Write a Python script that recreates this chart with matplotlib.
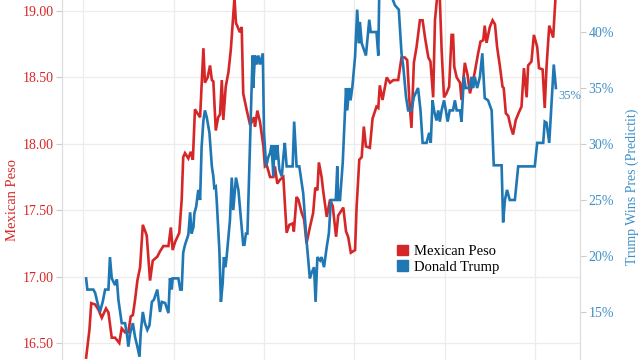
import matplotlib
matplotlib.use("Agg")
import matplotlib.pyplot as plt
from matplotlib.patches import Patch

RED = "#d62728"
BLUE = "#1f77b4"
BLUE_TXT = "#3d8fc6"

# Mexican peso (MXN per USD), day index along the x axis
peso_day = [1.0, 2.1, 2.7, 4.0, 5.1, 6.2, 7.0, 7.6, 8.4, 9.5, 10.6, 12.0, 12.8,
            13.9, 15.0, 15.8, 16.5, 17.2, 18.0, 18.9, 19.8, 21.1, 22.2, 23.1,
            24.6, 25.5, 26.6, 28.3, 29.1, 29.7, 30.5, 31.9, 32.7, 33.2, 33.8,
            34.9, 35.7, 36.4, 37.1, 37.9, 38.8, 39.9, 40.4, 41.3, 42.1, 42.7,
            43.2, 44.0, 44.8, 45.4, 46.0, 46.5, 47.3, 48.2, 49.0, 49.6, 50.2,
            50.7, 52.0, 52.6, 53.1, 54.3, 55.4, 56.7, 57.0, 57.8, 58.7, 59.8,
            60.3, 60.9, 62.0, 63.1, 63.6, 64.4, 65.3, 66.4, 67.5, 68.4, 69.5,
            69.9, 70.8, 71.4, 72.5, 73.3, 74.1, 75.2, 76.3, 77.0, 77.7, 78.2,
            79.1, 79.6, 80.8, 81.9, 82.8, 83.9, 84.6, 86.3, 87.2, 87.9, 88.8,
            90.2, 90.7, 91.6, 92.4, 93.1, 93.8, 95.1, 96.0, 97.3, 97.9, 98.4,
            99.3, 100.7, 101.8, 102.9, 104.5, 105.6, 106.7, 107.5, 108.2,
            108.9, 109.7, 110.6, 111.7, 112.6, 113.4, 114.5, 115.2, 116.1,
            116.7, 117.4, 118.3, 118.9, 119.7, 120.5, 121.4, 122.2, 122.7,
            123.1, 123.9, 125.0, 125.5, 126.6, 127.5, 128.3, 129.2, 129.9,
            131.0, 131.8, 132.7, 133.2, 133.8, 134.9, 135.8, 136.6, 137.3,
            138.2, 139.1, 139.5, 140.2, 141.0, 141.8, 142.6, 143.5, 144.6,
            145.4, 146.2, 147.1, 147.6, 148.7, 149.5, 150.6, 151.2, 152.4,
            153.1, 153.7, 154.6, 155.9, 156.8]
peso = [16.39, 16.60, 16.80, 16.79, 16.75, 16.69, 16.73, 16.76, 16.73, 16.54,
        16.54, 16.50, 16.61, 16.58, 16.58, 16.70, 16.71, 16.82, 16.97, 17.07,
        17.39, 17.31, 16.97, 17.12, 17.15, 17.19, 17.23, 17.23, 17.37, 17.20,
        17.26, 17.33, 17.58, 17.90, 17.93, 17.89, 17.94, 17.88, 18.26, 18.23,
        18.20, 18.72, 18.46, 18.50, 18.59, 18.48, 18.47, 18.10, 18.20, 18.22,
        18.48, 18.18, 18.43, 18.54, 18.71, 18.91, 19.10, 18.91, 18.84, 18.88,
        18.38, 18.25, 18.14, 18.20, 18.13, 18.25, 18.16, 17.98, 17.83, 17.84,
        17.75, 17.75, 17.83, 17.70, 17.73, 17.75, 17.33, 17.39, 17.40, 17.34,
        17.60, 17.58, 17.48, 17.43, 17.25, 17.37, 17.48, 17.67, 17.65, 17.86,
        17.75, 17.65, 17.45, 17.58, 17.53, 17.30, 17.46, 17.52, 17.34, 17.30,
        17.18, 17.20, 17.52, 17.88, 17.90, 18.13, 17.98, 17.97, 18.19, 18.28,
        18.27, 18.44, 18.33, 18.50, 18.46, 18.48, 18.48, 18.65, 18.65, 18.63,
        18.33, 18.12, 18.61, 18.73, 18.93, 18.93, 18.80, 18.65, 18.62, 18.35,
        18.93, 19.10, 19.10, 18.71, 18.35, 18.38, 18.43, 18.82, 18.82, 18.58,
        18.50, 18.46, 18.33, 18.61, 18.52, 18.38, 18.46, 18.54, 18.68, 18.77,
        18.78, 18.89, 18.76, 18.88, 18.93, 18.90, 18.73, 18.59, 18.43, 18.42,
        18.23, 18.21, 18.13, 18.07, 18.18, 18.24, 18.28, 18.57, 18.35, 18.59,
        18.62, 18.82, 18.73, 18.57, 18.56, 18.27, 18.58, 18.89, 18.80, 19.15]

# PredictIt: Trump wins presidency (%)
trump_day = [1.0, 1.4, 3.4, 4.0, 4.7, 5.6, 6.5, 7.3, 8.4, 8.9, 9.5, 10.6, 11.2,
             11.7, 12.8, 13.9, 14.5, 15.0, 15.6, 16.5, 17.2, 18.0, 18.7, 19.1,
             19.8, 20.5, 21.3, 22.0, 22.8, 23.5, 24.6, 25.5, 26.1, 27.2, 28.3,
             28.8, 29.4, 29.7, 31.6, 32.2, 32.7, 33.2, 33.8, 34.9, 35.5, 36.0,
             36.6, 36.9, 37.5, 38.2, 38.8, 39.3, 39.9, 40.4, 41.0, 41.9, 42.7,
             43.2, 43.5, 44.0, 44.3, 45.2, 45.7, 46.3, 46.7, 47.2, 47.6, 48.7,
             49.3, 49.8, 50.7, 51.5, 52.0, 53.1, 53.5, 54.0, 54.5, 55.4, 56.2,
             56.4, 57.0, 57.6, 58.1, 58.7, 59.6, 60.0, 60.7, 61.4, 62.0, 62.5,
             63.1, 63.4, 64.0, 64.4, 65.1, 65.9, 66.4, 66.9, 67.5, 69.5, 70.0,
             70.8, 71.7, 73.0, 74.1, 75.2, 75.8, 76.6, 77.1, 77.7, 78.6, 79.1,
             79.9, 80.8, 81.5, 82.2, 83.8, 84.3, 84.6, 85.2, 86.1, 87.2, 87.6,
             88.2, 88.7, 89.3, 90.2, 90.9, 91.5, 91.8, 92.4, 93.8, 94.9, 95.4,
             97.3, 97.9, 98.2, 102.3, 103.4, 104.7, 105.6, 106.2, 107.1, 107.8,
             108.9, 109.7, 111.1, 111.9, 112.6, 113.9, 114.8, 115.3, 115.9,
             116.4, 117.2, 117.8, 118.3, 118.9, 119.7, 120.3, 120.9, 121.6,
             122.7, 123.3, 123.9, 125.0, 125.5, 126.3, 126.9, 128.3, 128.8,
             129.4, 129.9, 130.7, 131.6, 132.4, 133.2, 134.3, 135.5, 136.2,
             138.8, 139.3, 139.9, 140.6, 141.5, 143.2, 144.3, 149.8, 150.6,
             152.6, 153.1, 153.7, 154.6, 155.4, 156.1, 156.8]
trump = [18.0, 17.0, 17.0, 16.7, 15.9, 15.0, 15.9, 17.0, 17.0, 19.9, 18.0,
         17.4, 17.9, 16.1, 14.0, 14.0, 13.1, 11.9, 13.1, 14.0, 12.8, 11.9,
         11.0, 13.1, 15.0, 14.0, 13.4, 13.8, 15.9, 16.1, 17.0, 15.0, 15.9,
         15.8, 14.9, 18.0, 17.0, 18.0, 18.0, 17.0, 17.0, 20.3, 21.0, 21.9,
         23.9, 22.0, 22.6, 23.8, 24.4, 25.9, 25.0, 29.7, 32.1, 33.0, 32.4,
         31.0, 28.0, 27.1, 26.1, 26.2, 25.0, 20.5, 15.9, 17.6, 19.9, 19.0,
         19.9, 23.2, 27.0, 24.1, 27.0, 25.9, 24.4, 21.0, 21.0, 22.0, 22.0,
         30.4, 37.9, 35.0, 37.9, 37.1, 37.9, 37.1, 38.1, 31.0, 28.0, 28.8,
         29.2, 29.9, 27.1, 29.9, 28.6, 29.9, 27.7, 27.1, 28.8, 30.1, 28.0,
         28.0, 32.0, 28.0, 28.0, 25.6, 21.4, 18.0, 18.5, 19.0, 15.9, 19.9,
         19.6, 19.9, 19.0, 20.8, 22.0, 25.0, 25.0, 28.0, 25.0, 25.0, 28.3,
         35.0, 33.0, 35.0, 33.9, 35.1, 37.8, 42.0, 39.0, 40.9, 39.0, 37.9,
         41.1, 40.0, 40.0, 37.9, 43.2, 43.2, 42.4, 42.0, 38.1, 36.9, 34.2,
         33.0, 33.0, 34.2, 35.0, 33.0, 30.1, 30.1, 31.0, 30.1, 33.9, 33.0,
         32.1, 33.0, 32.0, 33.0, 33.9, 33.0, 32.0, 33.0, 33.0, 33.9, 33.0,
         33.0, 32.0, 36.0, 35.0, 35.0, 36.0, 35.0, 36.0, 35.0, 36.0, 38.1,
         34.1, 33.9, 33.0, 28.1, 28.1, 23.0, 25.0, 25.9, 25.0, 25.0, 28.0,
         28.0, 30.1, 30.1, 32.0, 31.9, 30.1, 33.9, 37.1, 35.0]

peso_ticks = [16.5, 17.0, 17.5, 18.0, 18.5, 19.0]
trump_ticks = [15, 20, 25, 30, 35, 40]
x_grid = [0, 30, 60, 90, 120, 150]

plt.rcParams["font.family"] = ["Liberation Serif", "DejaVu Serif"]

fig = plt.figure(figsize=(6.4, 3.6), dpi=100)
ax = fig.add_axes([62 / 640, 0.0, 518 / 640, 1.0])
ax2 = ax.twinx()

ax.plot(peso_day, peso, color=RED, lw=1.9, solid_joinstyle="miter")
ax2.plot(trump_day, trump, color=BLUE, lw=1.9, solid_joinstyle="miter")

ax.set_xlim(-7.0, 164.8)
ax.set_ylim(16.372, 19.083)
ax2.set_ylim(10.71, 42.86)

ax.set_xticks(x_grid)
ax.tick_params(axis="x", length=0, labelbottom=False)
ax.set_yticks(peso_ticks)
ax.set_yticklabels([f"{v:.2f}" for v in peso_ticks])
ax.tick_params(axis="y", colors="#cccccc", labelcolor=RED, labelsize=10,
               length=4, width=0.8, pad=2)
ax2.set_yticks(trump_ticks)
ax2.set_yticklabels([f"{v}%" for v in trump_ticks])
ax2.tick_params(axis="y", colors="#cccccc", labelcolor=BLUE_TXT, labelsize=10,
                length=4, width=0.8, pad=2)

ax.grid(True, color="#ececec", lw=0.9)
ax.set_axisbelow(True)
for a in (ax, ax2):
    for side in ("top", "bottom"):
        a.spines[side].set_visible(False)
    a.spines["left"].set_color("#dddddd")
    a.spines["right"].set_color("#dddddd")

ax.set_ylabel("Mexican Peso", color=RED, fontsize=10.5)
ax.yaxis.set_label_coords(-0.083, 0.445)
ax2.set_ylabel("Trump Wins Pres (Predictit)", color=BLUE_TXT, fontsize=10)
ax2.yaxis.set_label_coords(1.088, 0.48)

ax2.annotate(f"{trump[-1]:.0f}%", xy=(trump_day[-1], trump[-1]),
             xytext=(1.5, -6), textcoords="offset points",
             color=BLUE_TXT, fontsize=9, ha="left", va="center")

handles = [Patch(color=RED, label="Mexican Peso"),
           Patch(color=BLUE, label="Donald Trump")]
fig.legend(handles=handles, loc="upper left", bbox_to_anchor=(0.62, 0.32),
           frameon=False, fontsize=10.5, handlelength=0.75, handleheight=0.75,
           handletextpad=0.4, labelspacing=0.15, borderpad=0, borderaxespad=0)

fig.savefig("out.png", dpi=100)
